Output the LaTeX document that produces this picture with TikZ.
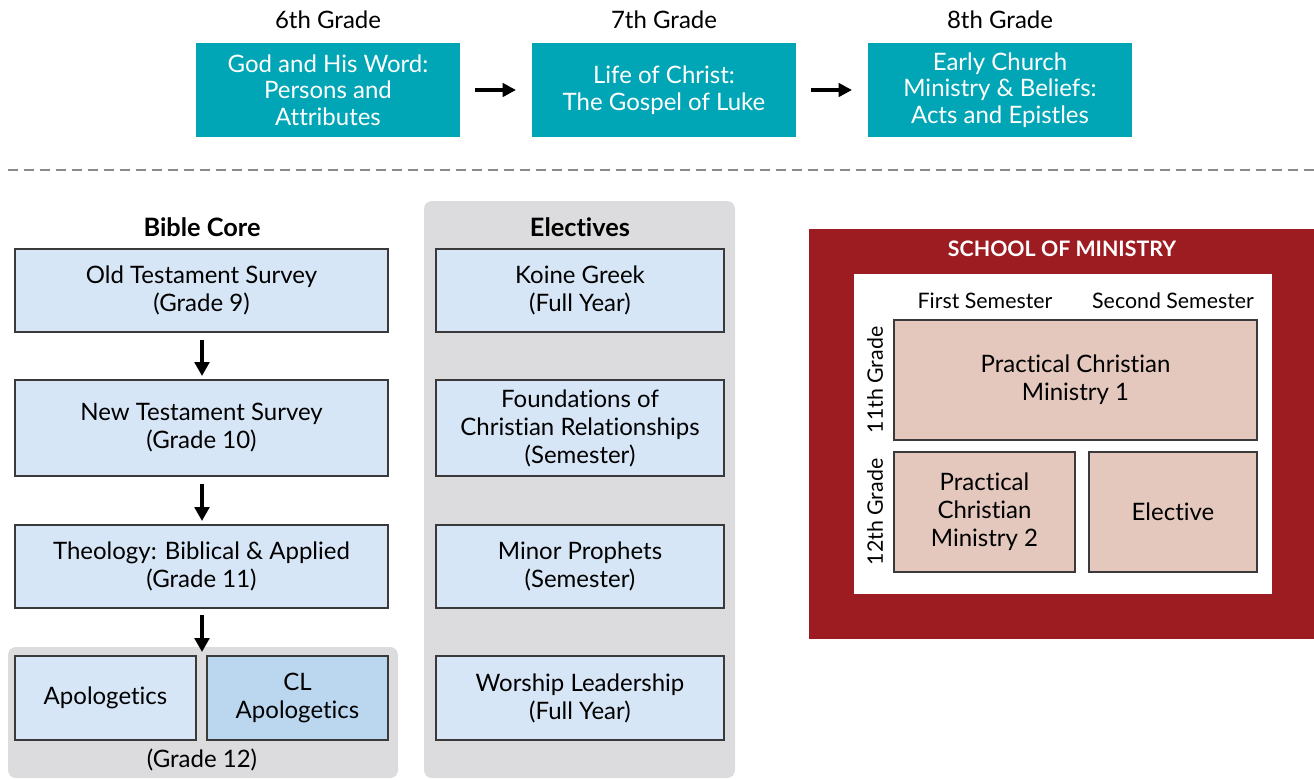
\documentclass[tikz,border=0pt]{standalone}
\usepackage{fontspec}
\setmainfont[Ligatures={NoCommon,NoRare,NoDiscretionary}]{Lato}
\usetikzlibrary{arrows.meta}
\definecolor{tealc}{HTML}{00A5B6}
\definecolor{lblue}{HTML}{D7E6F6}
\definecolor{mblue}{HTML}{BAD7EF}
\definecolor{bgray}{HTML}{DCDCDE}
\definecolor{pinkc}{HTML}{E4C8BD}
\definecolor{redc}{HTML}{9C1C22}
\definecolor{edgec}{HTML}{3A3A3A}
\definecolor{dashc}{HTML}{8A8A8A}
\tikzset{
  sz/.style 2 args={minimum width=#1*0.75pt, minimum height=#2*0.75pt, inner sep=0pt, outer sep=0pt},
  txt/.style={font=\fontsize{18}{21}\selectfont, text=black, align=center},
  tealbox/.style={fill=tealc, text=white, align=center, font=\fontsize{18}{20}\selectfont},
  bluebox/.style={fill=lblue, draw=edgec, line width=0.8pt, txt},
  pinkbox/.style={fill=pinkc, draw=edgec, line width=0.8pt, txt},
  head/.style={font=\fontsize{19}{20}\bfseries\selectfont, text=black},
  small/.style={font=\fontsize{16}{18}\selectfont, text=black},
  harrow/.style={-{Triangle[length=10pt,width=10pt]}, line width=3pt, black},
  varrow/.style={-{Triangle[length=10.5pt,width=11pt]}, line width=3pt, black},
  bgpanel/.style={fill=bgray, rounded corners=6pt},
}
\begin{document}
\begin{tikzpicture}[x=0.75pt, y=-0.75pt]
\useasboundingbox (0,0) rectangle (1314,779);
% top row
\node[txt] (g6) at (328,20) {6th Grade};
\node[txt] (g7) at (664,20) {7th Grade};
\node[txt] (g8) at (1000,20) {8th Grade};
\node[tealbox, sz={264}{94}] (t1) at (328,90) {God and His Word:\\Persons and\\Attributes};
\node[tealbox, sz={264}{94}] (t2) at (664,90) {Life of Christ:\\The Gospel of Luke};
\node[tealbox, sz={264}{94}] (t3) at (1000,90) {Early Church\\Ministry \& Beliefs:\\Acts and Epistles};
\draw[harrow, shorten <=15*0.75pt, shorten >=16*0.75pt] (t1.east) -- (t2.west);
\draw[harrow, shorten <=15*0.75pt, shorten >=16*0.75pt] (t2.east) -- (t3.west);
% dashed separator
\coordinate (dl) at (8,170);
\coordinate (dr) at (1314,170);
\draw[dashc, line width=1.6pt, dash pattern=on 7.5pt off 4.5pt] (dl) -- (dr);
% gray panels
\path[bgpanel] (8,647) rectangle (398,778);
\path[bgpanel] (424,201) rectangle (735,778);
% Bible core
\node[head] (bc) at (202,227) {Bible Core};
\node[bluebox, sz={373}{83}] (ot) at (201.5,290.5) {Old Testament Survey\\(Grade 9)};
\node[bluebox, sz={373}{96}] (nt) at (201.5,428) {New Testament Survey\\(Grade 10)};
\node[bluebox, sz={373}{83}] (th) at (201.5,566.5) {Theology: Biblical \& Applied\\(Grade 11)};
\node[bluebox, sz={181}{84}] (ap) at (105.5,698) {Apologetics};
\node[fill=mblue, draw=edgec, line width=0.8pt, txt, sz={181}{84}] (clap) at (297.5,698) {CL\\Apologetics};
\coordinate (aptop) at (202,656);
\node[txt] (g12) at (202,760) {(Grade 12)};
\draw[varrow, shorten <=8*0.75pt, shorten >=4*0.75pt] (ot.south -| 202,0) -- (nt.north -| 202,0);
\draw[varrow, shorten <=8*0.75pt, shorten >=4*0.75pt] (nt.south -| 202,0) -- (th.north -| 202,0);
\draw[varrow, shorten <=7*0.75pt, shorten >=4*0.75pt] (th.south -| aptop) -- (aptop);
% Electives
\node[head] (el) at (580,227) {Electives};
\node[bluebox, sz={288}{83}] (e1) at (580,290.5) {Koine Greek\\(Full Year)};
\node[bluebox, sz={288}{96}] (e2) at (580,428) {Foundations of\\Christian Relationships\\(Semester)};
\node[bluebox, sz={288}{83}] (e3) at (580,566.5) {Minor Prophets\\(Semester)};
\node[bluebox, sz={288}{84}] (e4) at (580,698) {Worship Leadership\\(Full Year)};
% School of ministry
\node[fill=redc, sz={505}{410}] (som) at (1061.5,434) {};
\node[font=\fontsize{16}{18}\bfseries\selectfont, text=white] (somt) at (1062,249) {SCHOOL OF MINISTRY};
\node[fill=white, sz={418}{320}] (inner) at (1063,434) {};
\node[small] (s1) at (985,301) {First Semester};
\node[small] (s2) at (1173,301) {Second Semester};
\node[pinkbox, sz={363}{120}] (p1) at (1075.5,380) {Practical Christian\\Ministry 1};
\node[pinkbox, sz={181}{120}] (p2) at (984.5,512) {Practical\\Christian\\Ministry 2};
\node[pinkbox, sz={168}{120}] (p3) at (1173,512) {Elective};
\node[small, rotate=90] (r11) at (875,380) {11th Grade};
\node[small, rotate=90] (r12) at (875,512) {12th Grade};
\end{tikzpicture}
\end{document}
